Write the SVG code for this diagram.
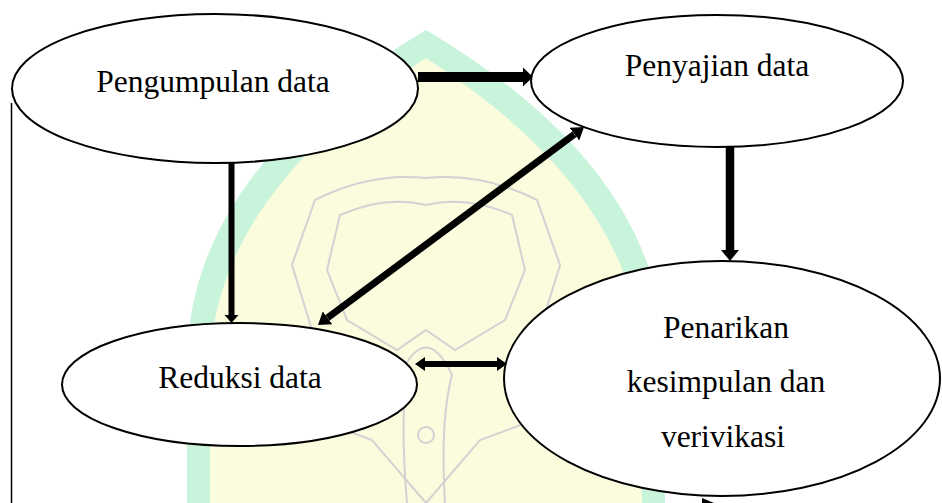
<svg xmlns="http://www.w3.org/2000/svg" width="942" height="503" viewBox="0 0 942 503">
<style>
.node ellipse{fill:#fff;stroke:#000;stroke-width:2}
.node text{font-size:31.5px;fill:#000;text-anchor:middle}
.conn line{stroke:#000;stroke-linecap:butt}
.wm-line{fill:none;stroke:#d2d2d2;stroke-width:2}
</style>
<defs>
<marker id="hA" markerUnits="userSpaceOnUse" orient="auto-start-reverse" refX="0" refY="10" markerWidth="12" markerHeight="20" viewBox="0 0 12 20"><path d="M0,0.5 L10,10 L0,19.5 Z" fill="#000"/></marker>
<marker id="hB" markerUnits="userSpaceOnUse" orient="auto-start-reverse" refX="0" refY="7" markerWidth="10" markerHeight="14" viewBox="0 0 10 14"><path d="M0,0 L8,7 L0,14 Z" fill="#000"/></marker>
<marker id="hC" markerUnits="userSpaceOnUse" orient="auto-start-reverse" refX="0" refY="9" markerWidth="12" markerHeight="18" viewBox="0 0 12 18"><path d="M0,0 L11,9 L0,18 Z" fill="#000"/></marker>
<marker id="hD" markerUnits="userSpaceOnUse" orient="auto-start-reverse" refX="0" refY="8" markerWidth="13" markerHeight="16" viewBox="0 0 13 16"><path d="M0,0 L12,8 L0,16 Z" fill="#000"/></marker>
<marker id="hE" markerUnits="userSpaceOnUse" orient="auto-start-reverse" refX="0" refY="7" markerWidth="11" markerHeight="14" viewBox="0 0 11 14"><path d="M0,0 L10,7 L0,14 Z" fill="#000"/></marker>
</defs>
<rect width="942" height="503" fill="#fff"/>
<g id="watermark">
<path d="M187,503 L187,360 Q190,170 426,30 Q662,170 665,360 L665,503 Z" fill="#c9f4dc"/>
<path d="M210,503 L210,365 Q214,195 426,58 Q638,195 642,365 L642,503 Z" fill="#fbfbdd"/>
<path class="wm-line" d="M315,200 Q370,172 426,178 Q482,172 537,200 L560,265 L540,330 L575,405 L480,440 L426,503 L372,440 L277,405 L312,330 L292,265 Z" fill="#fbf6c8"/>
<path class="wm-line" d="M340,215 Q385,195 426,205 Q467,195 512,215 L525,270 L505,320 L455,350 L426,330 L397,350 L347,320 L327,270 Z"/>
<path class="wm-line" d="M400,375 Q426,320 452,375 Q440,420 445,503 M407,375 Q400,420 407,503"/>
<circle class="wm-line" cx="426" cy="435" r="8"/>
</g>
<g id="connectors" class="conn">
<line x1="418" y1="77" x2="523" y2="77" stroke-width="10" marker-end="url(#hA)"/>
<line x1="231.5" y1="163" x2="231.5" y2="315" stroke-width="6" marker-end="url(#hB)"/>
<line x1="730" y1="146" x2="730" y2="250" stroke-width="8.5" marker-end="url(#hC)"/>
<line x1="327.6" y1="317.8" x2="574.4" y2="134.2" stroke-width="7" marker-start="url(#hD)" marker-end="url(#hD)"/>
<line x1="425" y1="364" x2="497" y2="364" stroke-width="6" marker-start="url(#hE)" marker-end="url(#hE)"/>
<line x1="11.5" y1="103" x2="11.5" y2="503" stroke-width="1.5"/>
<polygon points="702,498 714,503 702,503" fill="#000"/>
</g>
<g font-family="Liberation Serif, Tinos, Times New Roman, DejaVu Serif, serif">
<g id="node-pengumpulan" class="node">
<ellipse cx="215" cy="88.5" rx="203" ry="74.5"/>
<text x="213" y="92">Pengumpulan data</text>
</g>
<g id="node-penyajian" class="node">
<ellipse cx="717" cy="81" rx="186" ry="66"/>
<text x="717" y="76">Penyajian data</text>
</g>
<g id="node-reduksi" class="node">
<ellipse cx="239.5" cy="384.5" rx="177.5" ry="61.5"/>
<text x="240" y="388">Reduksi data</text>
</g>
<g id="node-penarikan" class="node">
<ellipse cx="722" cy="378.5" rx="218" ry="117.5"/>
<text x="726" y="338">Penarikan</text>
<text x="726" y="392">kesimpulan dan</text>
<text x="723" y="447">verivikasi</text>
</g>
</g>
</svg>
